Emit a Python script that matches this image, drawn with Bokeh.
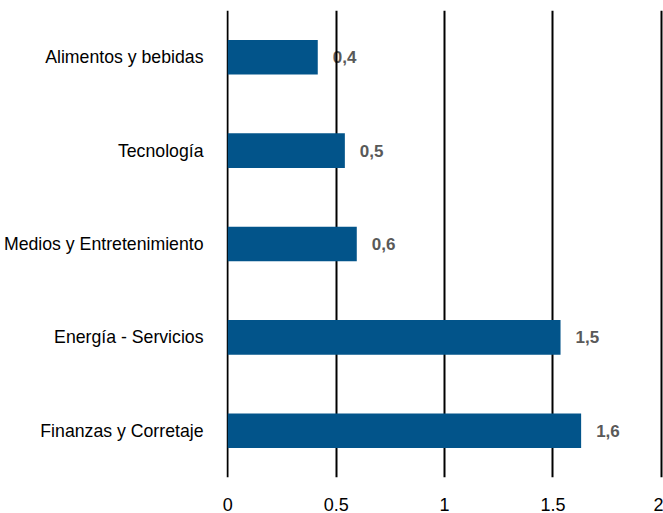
from bokeh.plotting import figure
from bokeh.models import ColumnDataSource, FixedTicker, Range1d
from bokeh.core.properties import value
from bokeh.embed import file_html
from bokeh.resources import INLINE

categories = ["Finanzas y Corretaje", "Energía - Servicios", "Medios y Entretenimiento", "Tecnología", "Alimentos y bebidas"]
values = [1.63, 1.535, 0.595, 0.54, 0.415]
labels = ["1,6", "1,5", "0,6", "0,5", "0,4"]
x_ticks = [0, 0.5, 1, 1.5, 2]

FONT = "Liberation Sans"

src = ColumnDataSource(dict(cat=categories, val=values, lab=labels))

p = figure(y_range=categories, x_range=Range1d(-0.006, 2.01), width=663, height=513,
           output_backend="svg", toolbar_location=None,
           min_border_left=225, min_border_right=0, min_border_top=10, min_border_bottom=10)
p.outline_line_color = None
p.background_fill_color = "white"
p.border_fill_color = "white"

p.hbar(y="cat", right="val", left=0, height=0.37, source=src, color="#02548a", line_color=None)
p.text(x="val", y="cat", text="lab", source=src, x_offset=15, text_align="left",
       text_baseline="middle", text_font=value(FONT), text_font_size="17px",
       text_font_style="bold", text_color="#595959", level="underlay")

p.xaxis.ticker = FixedTicker(ticks=x_ticks)
p.xaxis.axis_line_color = None
p.xaxis.major_tick_line_color = None
p.xaxis.minor_tick_line_color = None
p.xaxis.major_label_text_font = FONT
p.xaxis.major_label_text_font_size = "18px"
p.xaxis.major_label_text_color = "black"
p.xaxis.major_label_standoff = 14

p.yaxis.axis_line_color = None
p.yaxis.major_tick_line_color = None
p.yaxis.minor_tick_line_color = None
p.yaxis.major_label_text_font = FONT
p.yaxis.major_label_text_font_size = "17.7px"
p.yaxis.major_label_text_color = "black"
p.yaxis.major_label_standoff = 17

p.xgrid.ticker = FixedTicker(ticks=x_ticks)
p.xgrid.grid_line_color = "black"
p.xgrid.grid_line_width = 2
p.ygrid.grid_line_color = None

open("out.html", "w").write(file_html(p, INLINE))
